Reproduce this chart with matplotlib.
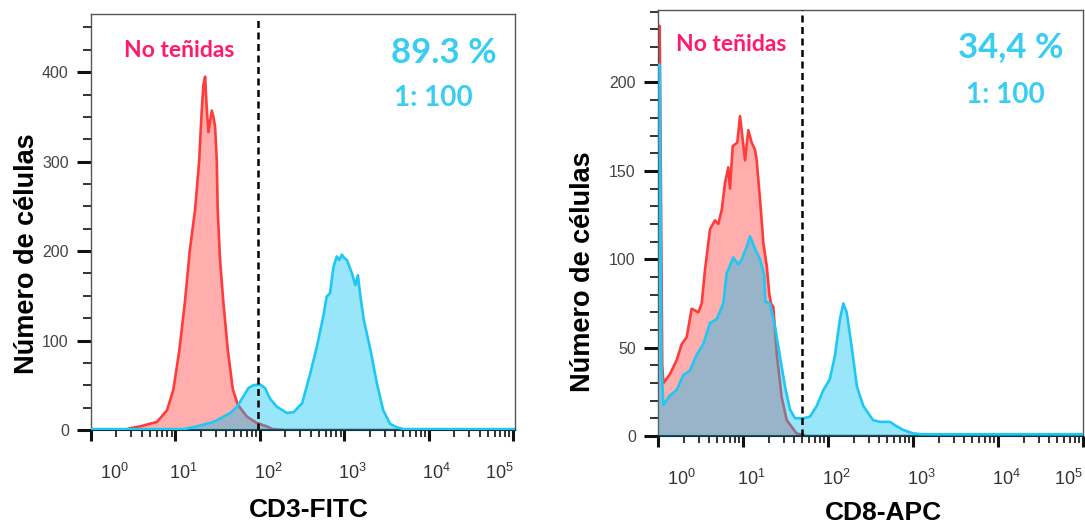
import numpy as np
import matplotlib
matplotlib.use('Agg')
from matplotlib import pyplot as plt
from matplotlib.ticker import MultipleLocator, LogLocator, NullFormatter
from matplotlib.transforms import ScaledTranslation

plt.rcParams['font.family'] = ['Liberation Sans', 'DejaVu Sans']
plt.rcParams['mathtext.fontset'] = 'custom'
plt.rcParams['mathtext.rm'] = 'Liberation Sans'

# ---- data (x given as log10 of fluorescence, y = number of cells) ----
# CD3-FITC panel
cd3_red_logx = [0.40, 0.46, 0.58, 0.78, 0.90, 0.975, 1.046, 1.114, 1.17, 1.232, 1.28, 1.311, 1.33, 1.351,
                1.37, 1.39, 1.41, 1.43, 1.45, 1.469, 1.489, 1.50, 1.528, 1.565, 1.62, 1.68, 1.74, 1.845,
                1.96, 2.08, 2.15, 2.3, 3.6]
cd3_red_n = [0, 2, 4, 9, 22, 45, 89, 145, 201, 246, 300, 357, 385, 395,
             360, 333, 345, 357, 350, 339, 302, 246, 190, 145, 89, 45, 28, 15,
             8, 4, 1, 0, 0]
cd3_cyan_logx = [0.0, 1.1, 1.25, 1.45, 1.65, 1.73, 1.80, 1.865, 1.92, 2.0, 2.06, 2.12, 2.2, 2.32, 2.40,
                 2.5, 2.595, 2.674, 2.75, 2.79, 2.83, 2.87, 2.91, 2.94, 2.97, 3.0, 3.03, 3.09, 3.13,
                 3.16, 3.19, 3.23, 3.31, 3.385, 3.46, 3.54, 3.62, 3.7, 5.05]
cd3_cyan_n = [1, 1, 4, 9, 19, 26, 37, 47, 50, 51, 47, 35, 26, 19, 20,
              30, 63, 93, 127, 149, 153, 182, 194, 190, 196, 192, 190, 175, 162,
              173, 149, 123, 89, 52, 22, 7, 3, 1, 1]

# CD8-APC panel
cd8_red_logx = [0.0, 0.02, 0.05, 0.063, 0.141, 0.22, 0.279, 0.338, 0.396, 0.475, 0.514, 0.553, 0.612,
                0.67, 0.71, 0.75, 0.788, 0.827, 0.847, 0.879, 0.933, 0.965, 1.024, 1.062, 1.102, 1.141,
                1.161, 1.2, 1.24, 1.28, 1.31, 1.33, 1.357, 1.396, 1.455, 1.514, 1.63, 1.75, 3.0]
cd8_red_n = [232, 232, 40, 30, 35, 43, 52, 56, 72, 70, 75, 94, 117,
             122, 120, 128, 143, 152, 140, 164, 166, 181, 156, 173, 166, 162,
             156, 134, 109, 96, 80, 75, 73, 47, 22, 9, 1.5, 0, 0]
cd8_cyan_logx = [0.0, 0.02, 0.04, 0.063, 0.141, 0.22, 0.298, 0.376, 0.455, 0.533, 0.612, 0.69, 0.768,
                 0.808, 0.886, 0.945, 0.985, 1.044, 1.082, 1.141, 1.2, 1.25, 1.262, 1.318, 1.376, 1.435,
                 1.494, 1.553, 1.612, 1.67, 1.71, 1.788, 1.867, 1.945, 2.02, 2.08, 2.14, 2.18, 2.22,
                 2.28, 2.34, 2.415, 2.53, 2.61, 2.73, 2.79, 2.886, 3.0, 3.1, 5.05]
cd8_cyan_n = [210, 210, 40, 17.5, 23, 26, 34.5, 37, 46, 52, 64, 66, 75,
              92, 101, 97, 100, 107, 113, 106, 100, 91, 76, 75, 62, 45,
              28, 15, 10, 10, 10, 11, 17, 26, 32, 45, 66, 75, 70,
              50, 28, 17, 9, 8, 8, 6, 3.4, 1.5, 1, 1]

decades = [0, 1, 2, 3, 4, 5]
red_line = '#ff3b3b'
red_fill = '#ffadad'
cyan_line = '#1ec8f4'
cyan_fill = (0.0, 0.75, 0.95, 0.4)
pink_txt = '#ff1a6e'
cyan_txt = '#38cdf3'
txt_font = ['Lato', 'DejaVu Sans']

fig = plt.figure(figsize=(10.85, 5.27), dpi=100)
ax1 = fig.add_axes([91/1085, 97/527, 424/1085, 416/527])
ax2 = fig.add_axes([658/1085, 91/527, 425/1085, 426/527])


def draw_hist(ax, rlx, rn, clx, cn):
    rx = 10**np.array(rlx)
    cx = 10**np.array(clx)
    ax.fill_between(rx, rn, 0, color=red_fill, lw=0, zorder=1)
    ax.plot(rx, rn, color=red_line, lw=1.9, zorder=2)
    ax.fill_between(cx, cn, 0, color=cyan_fill, lw=0, zorder=3)
    ax.plot(cx, cn, color=cyan_line, lw=1.9, zorder=4)


def style_axes(ax, ytop, ymaj, ymin):
    ax.set_xscale('log')
    ax.set_xlim(1, 10**5.02)
    ax.set_ylim(0, ytop)
    ax.set_xticks([10**d for d in decades])
    ax.set_xticklabels([r'$\mathregular{10^{%d}}$' % d for d in decades])
    ax.xaxis.set_minor_locator(LogLocator(base=10, subs=np.arange(2, 10), numticks=30))
    ax.xaxis.set_minor_formatter(NullFormatter())
    ax.yaxis.set_major_locator(MultipleLocator(ymaj))
    ax.yaxis.set_minor_locator(MultipleLocator(ymin))
    ax.tick_params(axis='x', which='major', length=8, width=2.2, pad=16, labelsize=13,
                   labelcolor='#333333', color='#111111')
    ax.tick_params(axis='x', which='minor', length=5, width=1.2, color='#111111')
    ax.tick_params(axis='y', which='major', length=10, width=2.2, pad=6, labelsize=11.5,
                   labelcolor='#444444', color='#111111')
    ax.tick_params(axis='y', which='minor', length=6, width=1.2, color='#111111')
    for s in ['top', 'right', 'left']:
        ax.spines[s].set_color('#555555')
        ax.spines[s].set_linewidth(1)
    ax.spines['bottom'].set_color('#111111')
    ax.spines['bottom'].set_linewidth(1.5)
    # shift decade labels a bit right, end labels aligned inwards
    ticks = ax.xaxis.get_major_ticks()
    for i, t in enumerate(ticks):
        if i == 0:
            t.label1.set_ha('left')
            dx = 9
        elif i == len(ticks) - 1:
            t.label1.set_ha('right')
            dx = 0
        else:
            dx = 8
        t.label1.set_transform(t.label1.get_transform() + ScaledTranslation(dx/100, 0, fig.dpi_scale_trans))
    ax.set_ylabel('Número de células', fontsize=19.5, fontweight='bold')
    ax.yaxis.label.set_va('center')


draw_hist(ax1, cd3_red_logx, cd3_red_n, cd3_cyan_logx, cd3_cyan_n)
style_axes(ax1, 465, 100, 25)
ax1.axvline(95, ymax=0.986, color='k', ls=(0, (2.8, 1.8)), lw=1.8, zorder=5)
ax1.set_xlabel('CD3-FITC', fontsize=19, fontweight='bold', va='center')
ax1.xaxis.set_label_coords(0.514, -0.192)
ax1.yaxis.set_label_coords(-0.151, 0.423)
ax1.text(0.208, 0.913, 'No teñidas', transform=ax1.transAxes, ha='center', va='center',
         fontsize=16.5, fontweight='bold', family=txt_font, color=pink_txt)
ax1.text(0.833, 0.907, '89.3 %', transform=ax1.transAxes, ha='center', va='center',
         fontsize=25, fontweight='bold', family=txt_font, color=cyan_txt)
ax1.text(0.807, 0.798, '1: 100', transform=ax1.transAxes, ha='center', va='center',
         fontsize=20, fontweight='bold', family=txt_font, color=cyan_txt)

draw_hist(ax2, cd8_red_logx, cd8_red_n, cd8_cyan_logx, cd8_cyan_n)
style_axes(ax2, 241, 50, 10)
ax2.set_xlim(1, 10**5.0)
ax2.axvline(49, color='k', ls=(0, (2.8, 1.8)), lw=1.8, zorder=5)
ax2.set_xlabel('CD8-APC', fontsize=19, fontweight='bold', va='center')
ax2.xaxis.set_label_coords(0.53, -0.181)
ax2.yaxis.set_label_coords(-0.176, 0.385)
ax2.text(0.172, 0.918, 'No teñidas', transform=ax2.transAxes, ha='center', va='center',
         fontsize=16.5, fontweight='bold', family=txt_font, color=pink_txt)
ax2.text(0.831, 0.914, '34,4 %', transform=ax2.transAxes, ha='center', va='center',
         fontsize=25, fontweight='bold', family=txt_font, color=cyan_txt)
ax2.text(0.818, 0.801, '1: 100', transform=ax2.transAxes, ha='center', va='center',
         fontsize=20, fontweight='bold', family=txt_font, color=cyan_txt)

fig.savefig('out.png', dpi=100)
